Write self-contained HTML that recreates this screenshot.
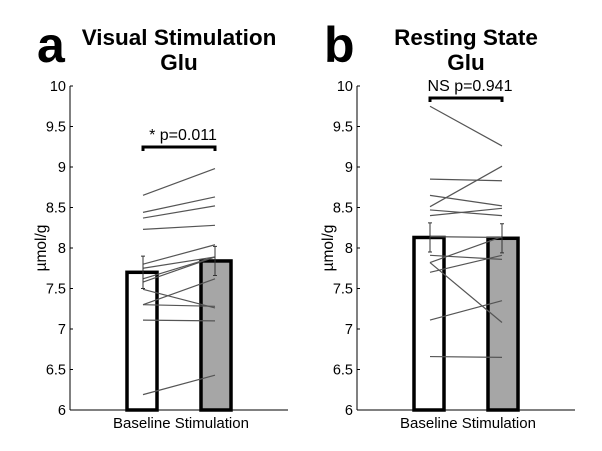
<!DOCTYPE html>
<html><head><meta charset="utf-8"><style>
body{margin:0;background:#fff}
svg{display:block;font-family:"Liberation Sans",Arial,sans-serif}
</style></head><body>
<svg id="c" width="602" height="451" viewBox="0 0 602 451"></svg>
<script>
const yTicks=[6,6.5,7,7.5,8,8.5,9,9.5,10];
const yTickLabels=["6","6.5","7","7.5","8","8.5","9","9.5","10"];
const categories=["Baseline","Stimulation"];
const visBase=[8.65,8.44,8.37,8.23,7.80,7.75,7.58,7.62,7.49,7.30,7.30,7.11,6.19];
const visStim=[8.98,8.63,8.52,8.28,8.04,7.89,7.89,7.89,7.26,7.62,7.28,7.10,6.43];
const visMean=[7.70,7.84];
const visErr=[0.20,0.18];
const restBase=[9.75,8.85,8.51,8.65,8.47,8.40,8.14,7.91,7.82,7.82,7.70,7.11,6.66];
const restStim=[9.26,8.83,9.01,8.52,8.40,8.49,8.13,7.86,8.14,7.08,7.91,7.35,6.65];
const restMean=[8.13,8.12];
const restErr=[0.18,0.18];
const svg=document.getElementById('c');
const NS='http://www.w3.org/2000/svg';
function mk(tag,at,parent,txt){const e=document.createElementNS(NS,tag);for(const k in at)e.setAttribute(k,at[k]);if(txt!==undefined)e.textContent=txt;(parent||svg).appendChild(e);return e;}
function panel(ox,letter,t1,t2,base,stim,mean,err,sig,sigY,name){
  const g=mk('g',{});
  
  
  const y=v=>410-(v-6)*81;
  const ax=ox, xEnd=ox+218;
  const barX=[ox+57,ox+131], bw=30;
  const lx=[ox+73,ox+145];
  let e=mk('text',{x:ox-33,y:62,'font-size':50,'font-weight':'bold'},g,letter);
  
  e=mk('text',{x:ox+109,y:45,'font-size':22.5,'font-weight':'bold','text-anchor':'middle'},g,t1);
  
  e=mk('text',{x:ox+109,y:70,'font-size':22.5,'font-weight':'bold','text-anchor':'middle'},g,t2);
  
  e=mk('line',{x1:ax,y1:y(10),x2:ax,y2:y(6),stroke:'#000','stroke-width':1},g);
  
  e=mk('line',{x1:ax,y1:y(6),x2:xEnd,y2:y(6),stroke:'#000','stroke-width':1},g);
  
  yTicks.forEach((v,i)=>{
    const t=mk('line',{x1:ax,y1:y(v),x2:ax+3,y2:y(v),stroke:'#000'},g);
    
    const l=mk('text',{x:ax-4,y:y(v)+5,'font-size':14.5,'text-anchor':'end'},g,yTickLabels[i]);
    
  });
  e=mk('text',{x:0,y:0,'font-size':15.5,'text-anchor':'middle',transform:`translate(${ox-24},248) rotate(-90)`},g,'µmol/g');
  
  [0,1].forEach(i=>{
    const b=mk('rect',{x:barX[i],y:y(mean[i]),width:bw,height:y(6)-y(mean[i]),fill:i?'#a6a6a6':'#fff',stroke:'#000','stroke-width':3.5},g);
    
  });
  base.forEach((v,i)=>{
    const l=mk('line',{x1:lx[0],y1:y(v),x2:lx[1],y2:y(stim[i]),stroke:'#555','stroke-width':1.2},g);
    
  });
  [0,1].forEach(i=>{
    const eb=mk('path',{d:`M${lx[i]},${y(mean[i]+err[i])}V${y(mean[i]-err[i])}M${lx[i]-2},${y(mean[i]+err[i])}h4M${lx[i]-2},${y(mean[i]-err[i])}h4`,stroke:'#333','stroke-width':1,fill:'none'},g);
    
  });
  e=mk('path',{d:`M${lx[0]},${sigY+4}V${sigY}H${lx[1]}V${sigY+4}`,stroke:'#000','stroke-width':3,fill:'none'},g);
  
  e=mk('text',{x:(lx[0]+lx[1])/2+4,y:sigY-7,'font-size':16,'text-anchor':'middle'},g,sig);
  
  e=mk('text',{x:ox+111,y:428,'font-size':15,'text-anchor':'middle'},g,categories[0]+' '+categories[1]);
  
}
panel(70,'a','Visual Stimulation','Glu',visBase,visStim,visMean,visErr,'* p=0.011',147,'panel-visual-stimulation');
panel(357,'b','Resting State','Glu',restBase,restStim,restMean,restErr,'NS p=0.941',98,'panel-resting-state');
</script>
</body></html>
